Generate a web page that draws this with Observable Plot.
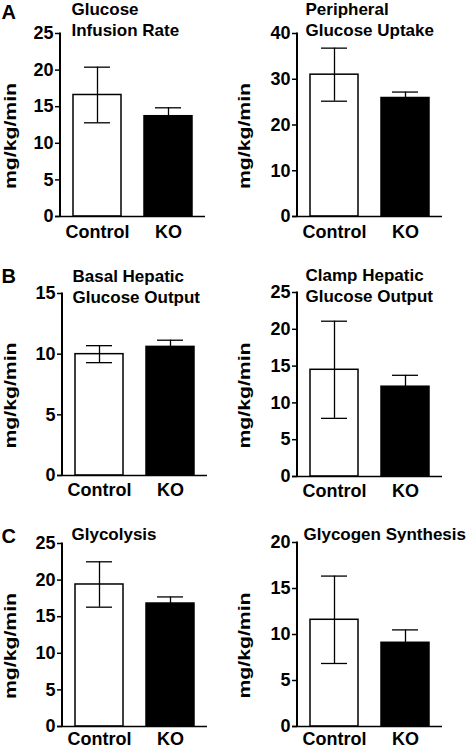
<!DOCTYPE html>
<html><head><meta charset="utf-8">
<script src="https://cdn.jsdelivr.net/npm/d3@7"></script>
<script src="https://cdn.jsdelivr.net/npm/@observablehq/plot@0.6"></script>
<style>
body{margin:0;background:#fff;}
#chart{position:relative;width:475px;height:749px;overflow:hidden;background:#fff;}
</style></head><body><div id="chart"></div>
<script>
const groups = ["Control", "KO"];
const titles = ["Glucose\nInfusion Rate", "Peripheral\nGlucose Uptake", "Basal Hepatic\nGlucose Output", "Clamp Hepatic\nGlucose Output", "Glycolysis", "Glycogen Synthesis"];
const panelLetters = ["A", null, "B", null, "C", null];
const controlMeans = [16.6, 31.0, 10.0, 14.5, 19.4, 11.6];
const controlSEM = [3.8, 5.8, 0.7, 6.6, 3.1, 4.75];
const koMeans = [13.7, 25.9, 10.6, 12.2, 16.8, 9.1];
const koSEM = [1.15, 1.3, 0.55, 1.55, 0.9, 1.4];
const yMax = [25, 40, 15, 25, 25, 20];
const yStep = [5, 10, 5, 5, 5, 5];
const yLabel = "mg/kg/min";

const layout = [
  {left: 0,   top: 0,   h: 250, mt: 33, mb: 34, ml: 60, titleX: 71,  titleY: 35,  letterY: 18,  labelX: 10,  xpad: 9},
  {left: 235, top: 0,   h: 250, mt: 33, mb: 34, ml: 62, titleX: 305, titleY: 35,  labelX: 244, xpad: 9},
  {left: 0,   top: 250, h: 250, mt: 43, mb: 25, ml: 62, titleX: 72,  titleY: 302, letterY: 282, labelX: 10,  xpad: 8},
  {left: 235, top: 250, h: 250, mt: 42, mb: 24, ml: 62, titleX: 305, titleY: 301, labelX: 244, xpad: 8},
  {left: 0,   top: 500, h: 249, mt: 43, mb: 23, ml: 62, titleX: 71,  titleY: 539, letterY: 542, labelX: 10,  xpad: 6},
  {left: 235, top: 500, h: 249, mt: 42, mb: 23, ml: 62, titleX: 303, titleY: 539, labelX: 244, xpad: 6}
];

const FONT = "'Liberation Sans', Arial, Helvetica, sans-serif";
const W = 240;
const FRAME_W = 145;
const chart = document.getElementById("chart");

// y-axis line along the left edge of the frame
function leftAxisLine(index, scales, values, dimensions) {
  const {marginLeft, marginTop, marginBottom, height} = dimensions;
  const g = d3.create("svg:g").attr("aria-label", "y-axis line");
  g.append("line")
    .attr("x1", marginLeft).attr("x2", marginLeft)
    .attr("y1", marginTop - 0.5).attr("y2", height - marginBottom + 0.5)
    .attr("stroke", "#000").attr("stroke-width", 2);
  return g.node();
}

layout.forEach((L, i) => {
  const data = groups.map((g, j) => ({
    group: g,
    mean: j ? koMeans[i] : controlMeans[i],
    sem: j ? koSEM[i] : controlSEM[i]
  }));
  const marks = [
    Plot.barY(data.filter(d => d.group === "Control"), {x: "group", y: "mean", fill: "#fff", stroke: "#000", strokeWidth: 1.5}),
    Plot.barY(data.filter(d => d.group === "KO"), {x: "group", y: "mean", fill: "#000", stroke: "#000", strokeWidth: 1.5}),
    Plot.ruleX(data, {x: "group", y1: d => d.mean - d.sem, y2: d => d.mean + d.sem, stroke: "#000", strokeWidth: 1.3}),
    Plot.tickY(data, {x: "group", y: d => d.mean + d.sem, insetLeft: 11, insetRight: 11, stroke: "#000", strokeWidth: 1.3}),
    Plot.tickY(data, {x: "group", y: d => d.mean - d.sem, insetLeft: 11, insetRight: 11, stroke: "#000", strokeWidth: 1.3}),
    Plot.ruleY([0], {stroke: "#000", strokeWidth: 1.5, insetLeft: -5}),
    Plot.axisY({ticks: d3.range(0, yMax[i] + 0.001, yStep[i]), tickSize: 5, tickPadding: 2, label: null, stroke: "#000", strokeWidth: 1.5}),
    Plot.axisX({tickSize: 0, tickPadding: L.xpad, label: null}),
    Plot.text([titles[i]], {frameAnchor: "top-left", text: d => d, textAnchor: "start", lineAnchor: "bottom", lineHeight: 1.22,
      dx: L.titleX - L.left - L.ml, dy: L.titleY - L.top - L.mt, fontSize: 17, fill: "#000"}),
    Plot.text([yLabel], {frameAnchor: "left", text: d => d, rotate: -90, textAnchor: "middle", lineAnchor: "middle",
      dx: L.labelX - L.left - L.ml, dy: 11, fontSize: 16, fill: "#000"})
  ];
  if (panelLetters[i]) {
    marks.push(Plot.text([panelLetters[i]], {frameAnchor: "top-left", text: d => d, textAnchor: "start", lineAnchor: "bottom",
      dx: 1 - L.ml, dy: L.letterY - L.top - L.mt, fontSize: 20, fill: "#000"}));
  }
  marks.push(leftAxisLine);
  const svg = Plot.plot({
    width: W, height: L.h,
    marginLeft: L.ml, marginRight: W - L.ml - FRAME_W, marginTop: L.mt, marginBottom: L.mb,
    style: {fontFamily: FONT, fontSize: "18px", fontWeight: "bold", overflow: "visible"},
    x: {domain: groups, paddingInner: 0.32, paddingOuter: 0.17, label: null},
    y: {domain: [0, yMax[i]], label: null},
    marks
  });
  d3.select(svg).selectAll("text").filter(function () { return this.textContent === yLabel; })
    .attr("textLength", 106).attr("lengthAdjust", "spacingAndGlyphs");
  const wrap = document.createElement("div");
  wrap.style.position = "absolute";
  wrap.style.left = L.left + "px";
  wrap.style.top = L.top + "px";
  wrap.style.width = W + "px";
  wrap.appendChild(svg);
  chart.appendChild(wrap);
});
</script>
</body></html>
